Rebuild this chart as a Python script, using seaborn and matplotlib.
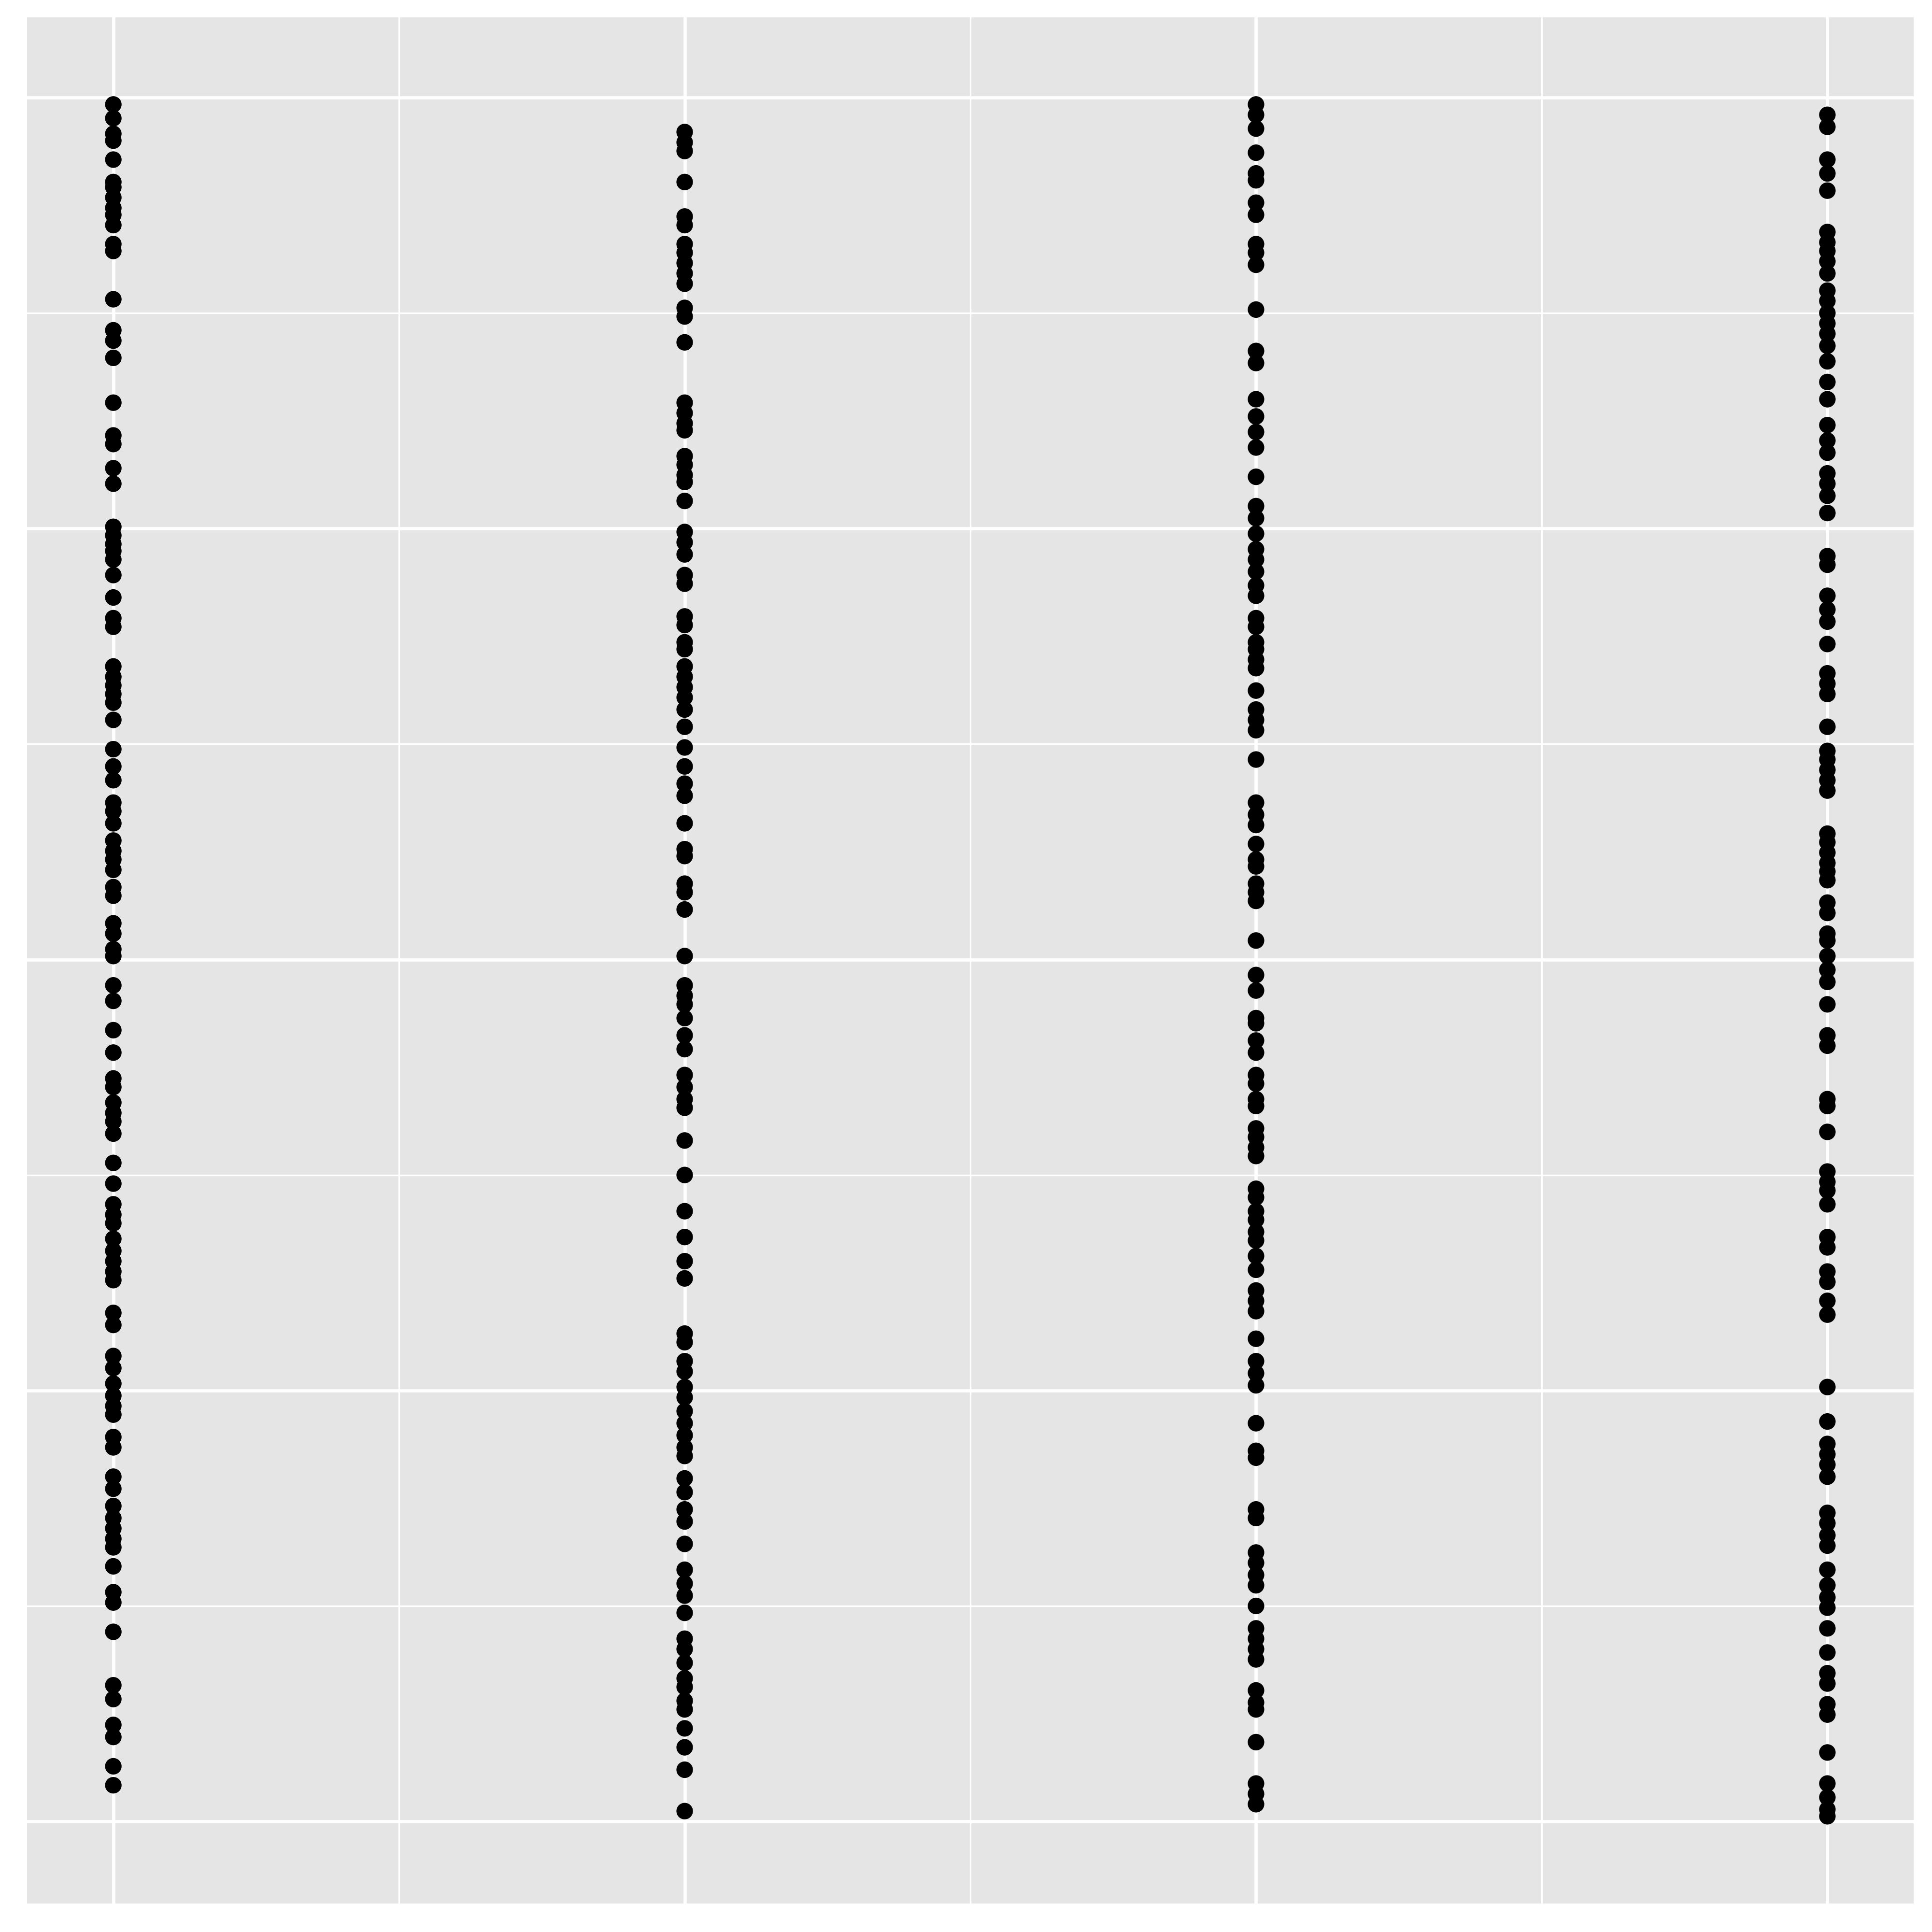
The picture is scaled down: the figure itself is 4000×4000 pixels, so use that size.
import numpy as np
import pandas as pd
import matplotlib
matplotlib.use("Agg")
import matplotlib.pyplot as plt
import seaborn as sns
from matplotlib.ticker import MultipleLocator

# -----------------------------
# values (4 groups, y in 0..1)
# -----------------------------
groups = [1, 2, 3, 4]

y_g1 = [0.996, 0.988, 0.979, 0.975, 0.964, 0.951, 0.948, 0.942, 0.936, 0.932,
        0.926, 0.915, 0.911, 0.883, 0.865, 0.859, 0.849, 0.823, 0.804, 0.799,
        0.785, 0.776, 0.751, 0.746, 0.741, 0.737, 0.732, 0.723, 0.710, 0.698,
        0.693, 0.670, 0.664, 0.659, 0.654, 0.649, 0.639, 0.622, 0.612, 0.604,
        0.591, 0.586, 0.579, 0.569, 0.563, 0.558, 0.552, 0.542, 0.537, 0.521,
        0.515, 0.506, 0.502, 0.485, 0.476, 0.459, 0.446, 0.431, 0.426, 0.417,
        0.411, 0.406, 0.399, 0.382, 0.370, 0.358, 0.352, 0.347, 0.338, 0.331,
        0.325, 0.319, 0.314, 0.295, 0.288, 0.270, 0.263, 0.254, 0.247, 0.241,
        0.236, 0.223, 0.217, 0.200, 0.193, 0.183, 0.176, 0.170, 0.164, 0.159,
        0.148, 0.133, 0.127, 0.110, 0.079, 0.071, 0.056, 0.049, 0.032, 0.021]

y_g2 = [0.980, 0.974, 0.969, 0.951, 0.931, 0.926, 0.915, 0.910, 0.904, 0.898,
        0.892, 0.878, 0.873, 0.858, 0.823, 0.817, 0.811, 0.807, 0.792, 0.787,
        0.781, 0.777, 0.766, 0.748, 0.742, 0.735, 0.723, 0.718, 0.699, 0.694,
        0.684, 0.680, 0.670, 0.664, 0.658, 0.652, 0.645, 0.635, 0.623, 0.612,
        0.602, 0.595, 0.579, 0.564, 0.560, 0.544, 0.539, 0.529, 0.502, 0.485,
        0.479, 0.474, 0.466, 0.456, 0.448, 0.433, 0.426, 0.419, 0.414, 0.395,
        0.375, 0.354, 0.339, 0.325, 0.315, 0.283, 0.278, 0.267, 0.261, 0.252,
        0.246, 0.238, 0.231, 0.224, 0.217, 0.212, 0.199, 0.191, 0.181, 0.174,
        0.161, 0.146, 0.138, 0.131, 0.121, 0.106, 0.100, 0.092, 0.083, 0.078,
        0.070, 0.065, 0.054, 0.043, 0.030, 0.006]

y_g3 = [0.996, 0.990, 0.982, 0.968, 0.956, 0.952, 0.939, 0.932, 0.915, 0.910,
        0.903, 0.877, 0.853, 0.846, 0.825, 0.815, 0.806, 0.797, 0.780, 0.763,
        0.756, 0.747, 0.738, 0.732, 0.725, 0.717, 0.711, 0.698, 0.693, 0.684,
        0.680, 0.674, 0.669, 0.656, 0.645, 0.639, 0.633, 0.616, 0.591, 0.584,
        0.578, 0.567, 0.558, 0.554, 0.544, 0.539, 0.534, 0.511, 0.491, 0.482,
        0.466, 0.463, 0.453, 0.446, 0.433, 0.428, 0.419, 0.415, 0.402, 0.397,
        0.391, 0.386, 0.367, 0.362, 0.354, 0.349, 0.342, 0.337, 0.328, 0.320,
        0.308, 0.302, 0.296, 0.280, 0.267, 0.260, 0.253, 0.231, 0.215, 0.211,
        0.181, 0.176, 0.156, 0.150, 0.143, 0.137, 0.125, 0.112, 0.106, 0.100,
        0.094, 0.076, 0.069, 0.065, 0.046, 0.022, 0.016, 0.010]

y_g4 = [0.990, 0.983, 0.964, 0.956, 0.946, 0.922, 0.916, 0.911, 0.905, 0.898,
        0.888, 0.882, 0.875, 0.869, 0.863, 0.856, 0.847, 0.835, 0.825, 0.810,
        0.801, 0.794, 0.782, 0.776, 0.769, 0.759, 0.734, 0.729, 0.711, 0.703,
        0.696, 0.683, 0.666, 0.660, 0.654, 0.635, 0.621, 0.616, 0.610, 0.604,
        0.598, 0.573, 0.568, 0.562, 0.556, 0.551, 0.546, 0.533, 0.527, 0.515,
        0.511, 0.502, 0.494, 0.487, 0.474, 0.456, 0.450, 0.419, 0.415, 0.400,
        0.377, 0.371, 0.366, 0.358, 0.339, 0.333, 0.319, 0.313, 0.302, 0.294,
        0.252, 0.232, 0.219, 0.213, 0.207, 0.200, 0.179, 0.173, 0.166, 0.160,
        0.146, 0.137, 0.130, 0.124, 0.112, 0.098, 0.086, 0.080, 0.068, 0.062,
        0.040, 0.022, 0.014, 0.007, 0.003]

df = pd.concat([
    pd.DataFrame({"x": g, "y": ys})
    for g, ys in zip(groups, [y_g1, y_g2, y_g3, y_g4])
], ignore_index=True)

# -----------------------------
# ggplot-like look
# -----------------------------
sns.set_theme(style="darkgrid", rc={
    "axes.facecolor": "#E5E5E5",
    "figure.facecolor": "white",
    "axes.edgecolor": "#E5E5E5",
})

fig = plt.figure(figsize=(10, 10), dpi=400)
ax = fig.add_axes([0.014, 0.01475, 0.9765, 0.97625])

sns.scatterplot(data=df, x="x", y="y", color="black", s=38,
                edgecolor="none", ax=ax, zorder=3)

ax.set_xlim(0.849, 4.151)
ax.set_ylim(-0.0476, 1.0465)
ax.xaxis.set_major_locator(MultipleLocator(1))
ax.xaxis.set_minor_locator(MultipleLocator(0.5))
ax.yaxis.set_major_locator(MultipleLocator(0.25))
ax.yaxis.set_minor_locator(MultipleLocator(0.125))
ax.grid(which="major", color="white", linewidth=1.2)
ax.grid(which="minor", color="white", linewidth=0.6)
ax.set_axisbelow(True)
for s in ax.spines.values():
    s.set_visible(False)

ax.set_xlabel("")
ax.set_ylabel("")
ax.tick_params(which="both", length=0, labelbottom=False, labelleft=False)

fig.savefig("out.png", dpi=400)
